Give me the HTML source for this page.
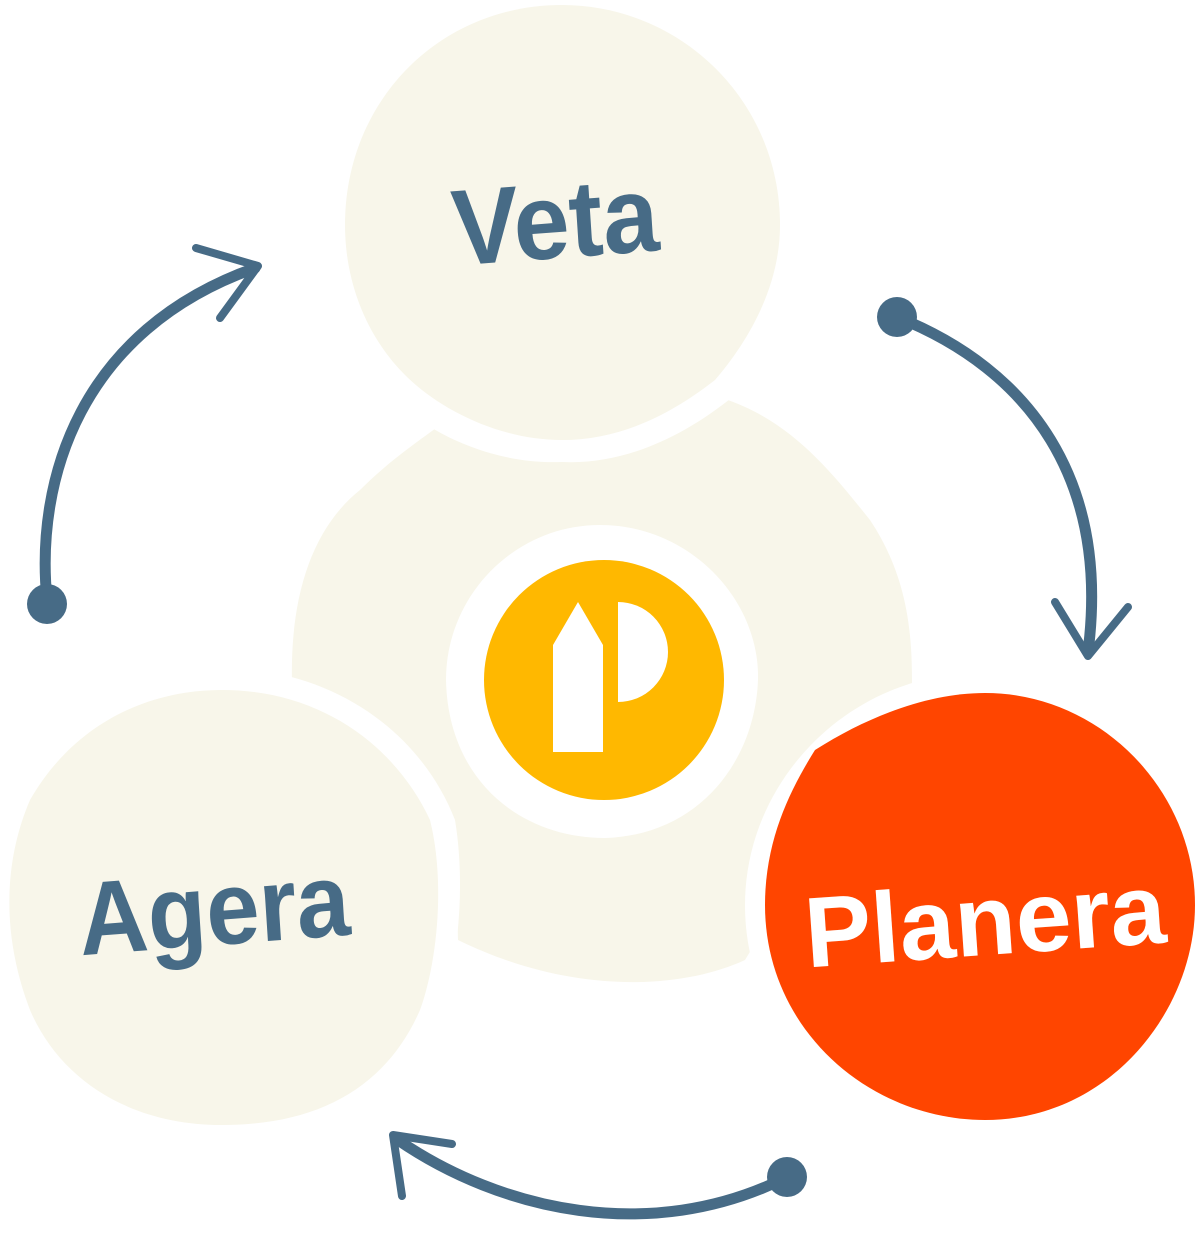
<!DOCTYPE html>
<html><head><meta charset="utf-8"><style>
html,body{margin:0;padding:0;background:#fff;}
svg{display:block;}
text{font-family:"Liberation Sans",sans-serif;font-weight:bold;}
</style></head><body>
<svg width="1200" height="1233" viewBox="0 0 1200 1233" xmlns="http://www.w3.org/2000/svg">
<rect width="1200" height="1233" fill="#fff"/>
<path d="M443,423 C520,470 640,470 722,398 C790,420 830,470 870,520 C910,580 912,640 912,685 L745,960 C680,990 570,995 458,940 L455,830 C400,760 350,700 292,683 C290,600 310,530 360,490 C390,460 420,440 443,423 Z" fill="#f8f6ea"/>
<path d="M562,-15 C690,-15 800,80 800,225 C800,300 760,360 735,395 C680,440 620,465 562,462 C490,465 420,430 385,390 C345,345 325,290 325,225 C325,90 430,-15 562,-15 Z" fill="#fff"/>
<path d="M222,668 C330,668 420,730 455,820 C465,880 460,960 440,1010 C400,1100 320,1145 222,1148 C120,1148 40,1090 10,1010 C-10,940 -10,860 25,790 C70,710 140,668 222,668 Z" fill="#fff"/>
<path d="M980,673 C1100,673 1215,780 1215,905 C1215,1020 1120,1140 980,1140 C860,1140 745,1040 745,905 C745,780 850,673 980,673 Z" fill="#fff"/>
<path d="M562,5 C680,5 780,100 780,225 C780,290 745,345 715,380 C670,415 620,440 562,440 C500,440 440,410 405,375 C365,335 345,280 345,225 C345,100 440,5 562,5 Z" fill="#f8f6ea"/>
<path d="M222,690 C320,690 395,745 430,820 C445,880 438,960 420,1010 C385,1090 315,1125 222,1125 C130,1125 60,1080 30,1010 C5,945 0,870 30,800 C70,730 140,690 222,690 Z" fill="#f8f6ea"/>
<path d="M985,693 C1100,693 1195,790 1195,905 C1195,1010 1110,1120 985,1120 C870,1120 765,1030 765,905 C765,840 790,790 815,750 C870,715 930,693 985,693 Z" fill="#ff4500"/>
<path d="M600,525 C690,525 760,600 758,680 C755,760 700,835 605,838 C520,838 448,780 446,680 C446,595 515,525 600,525 Z" fill="#fff"/>
<circle cx="604" cy="680" r="120" fill="#ffb800"/>
<path d="M553,645 L578,602 L603,645 L603,752 L553,752 Z" fill="#fff"/>
<path d="M618,602 A50,50 0 0 1 618,702 Z" fill="#fff"/>
<text x="555" y="258" font-size="108" fill="#476b86" text-anchor="middle" transform="translate(555 0) scale(0.93 1) translate(-555 0) rotate(-4 555 220)">Veta</text>
<text x="214" y="945" font-size="104" fill="#476b86" text-anchor="middle" transform="translate(214 0) scale(0.92 1) translate(-214 0) rotate(-4 214 910)">Agera</text>
<text x="985" y="955" font-size="100" fill="#fff" text-anchor="middle" transform="rotate(-4 985 920)">Planera</text>
<g fill="none" stroke="#476b86" stroke-width="11" stroke-linecap="round" stroke-linejoin="round">
<path d="M47,600 C35,480 80,330 255,268"/>
<path d="M196,248 L258,266 L220,318" stroke-width="8"/>
<path d="M897,317 C1030,370 1110,480 1088,652"/>
<path d="M1055,602 L1088,656 L1128,607" stroke-width="8"/>
<path d="M785,1178 C650,1245 500,1210 398,1140"/>
<path d="M452,1144 L393,1135 L402,1196" stroke-width="8"/>
</g>
<g fill="#476b86">
<circle cx="47" cy="604" r="20"/>
<circle cx="897" cy="317" r="20"/>
<circle cx="787" cy="1177" r="20"/>
</g>
</svg>
</body></html>
